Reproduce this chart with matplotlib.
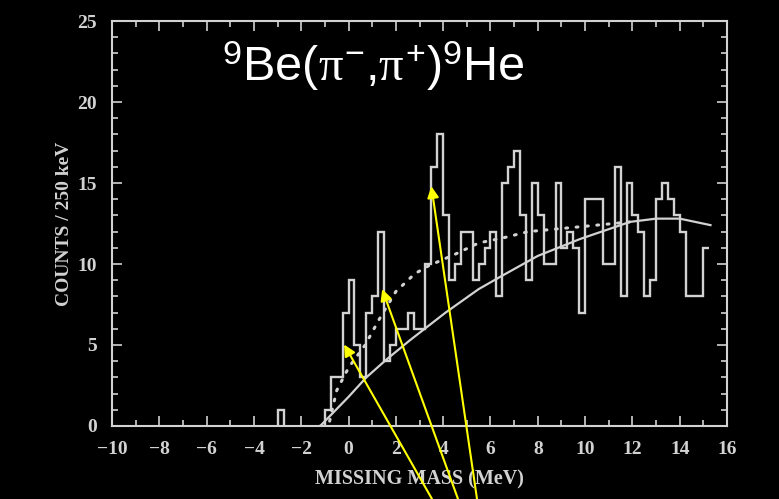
import numpy as np
import matplotlib
matplotlib.use("Agg")
import matplotlib.pyplot as plt
from matplotlib.ticker import MultipleLocator

# histogram: counts per 250 keV bin, starting at -1.25 MeV
bin_start = -1.25
bin_width = 0.25
counts = [0, 1, 3, 3, 7, 9, 5, 3, 7, 8, 12, 4, 5, 6, 6, 7, 6, 6, 10, 16, 18,
          13, 9, 10, 12, 12, 9, 10, 11, 12, 8, 15, 16, 17, 13, 9, 15, 13, 10,
          10, 15, 11, 12, 11, 7, 14, 14, 14, 10, 10, 16, 8, 15, 13, 12, 8, 9,
          14, 15, 14, 13, 12, 8, 8, 8, 11]

# lone count below threshold
stray_edges = [-3.0, -2.75]
stray_counts = [1]

# solid curve
solid_x = [-1.2, -0.8, 0.0, 0.75, 1.6, 2.6, 4.1, 5.5, 6.4, 8.0, 9.8, 11.9,
           13.0, 14.0, 15.3]
solid_y = [0.0, 0.6, 1.8, 3.0, 4.1, 5.3, 7.0, 8.45, 9.2, 10.5, 11.55, 12.6,
           12.8, 12.8, 12.4]

# dotted curve
dot_x = [-0.8, -0.5, 0.0, 0.7, 1.3, 2.0, 2.8, 3.4, 4.5, 5.5, 6.5, 7.6, 9.8,
         11.9]
dot_y = [0.3, 2.2, 3.6, 5.0, 6.6, 8.3, 9.4, 9.9, 10.6, 11.3, 11.6, 12.0,
         12.3, 12.6]

# arrow tips (MeV, counts) and tails (figure pixels)
tips = [(-0.19, 5.03), (1.42, 8.45), (3.5, 14.8)]
tails = [(432, 0), (458, 0), (477, 0)]

fg = "#d2d2d2"
plt.rcParams["mathtext.fontset"] = "custom"
plt.rcParams["mathtext.rm"] = "Liberation Sans"
plt.rcParams["mathtext.it"] = "Liberation Serif"

fig = plt.figure(figsize=(7.79, 4.99), dpi=100, facecolor="black")
ax = fig.add_axes([0.1438, 0.1463, 0.7895, 0.8116], facecolor="black")

edges = bin_start + bin_width * np.arange(len(counts) + 1)
ax.stairs(counts, edges, baseline=None, color=fg, lw=1.7)
ax.stairs(stray_counts, stray_edges, baseline=0, color=fg, lw=1.7)
ax.plot(solid_x, solid_y, color=fg, lw=1.6)
ax.plot(dot_x, dot_y, color=fg, lw=2.2, linestyle=(0, (0.6, 2.8)),
        dash_capstyle="round")

ax.set_xlim(-10, 16)
ax.set_ylim(0, 25)
ax.xaxis.set_major_locator(MultipleLocator(2))
ax.xaxis.set_minor_locator(MultipleLocator(1))
ax.yaxis.set_major_locator(MultipleLocator(5))
ax.yaxis.set_minor_locator(MultipleLocator(1))
ax.tick_params(which="both", direction="in", top=True, right=True,
               colors=fg, labelcolor=fg, width=1.2)
ax.tick_params(which="major", length=7, labelsize=14)
ax.tick_params(axis="x", which="major", pad=11)
ax.tick_params(axis="y", which="major", pad=11)
ax.tick_params(which="minor", length=4)
for lab in ax.get_xticklabels() + ax.get_yticklabels():
    lab.set_family("Liberation Serif")
    lab.set_weight("bold")
for sp in ax.spines.values():
    sp.set_color(fg)
    sp.set_linewidth(1.5)

ax.set_xlabel("MISSING MASS (MeV)", family="Liberation Serif",
              weight="bold", fontsize=14.5, color=fg, labelpad=8)
ax.set_ylabel("COUNTS / 250 keV", family="Liberation Serif",
              weight="bold", fontsize=14, color=fg, labelpad=3)

fig.text(0.285, 0.838, r"$^{9}\mathrm{Be(}\pi^{-}\mathrm{,}\pi^{+}\mathrm{)}^{9}\mathrm{He}$",
         color="white", fontsize=35, ha="left", va="baseline")

for (tx, ty), tail in zip(tips, tails):
    ax.annotate("", xy=(tx, ty), xycoords="data",
                xytext=tail, textcoords="figure pixels",
                annotation_clip=False,
                arrowprops=dict(arrowstyle="-|>", color="#ffff00", lw=1.5,
                                mutation_scale=17, shrinkA=0, shrinkB=0))

fig.savefig("out.png", dpi=100, facecolor="black")
